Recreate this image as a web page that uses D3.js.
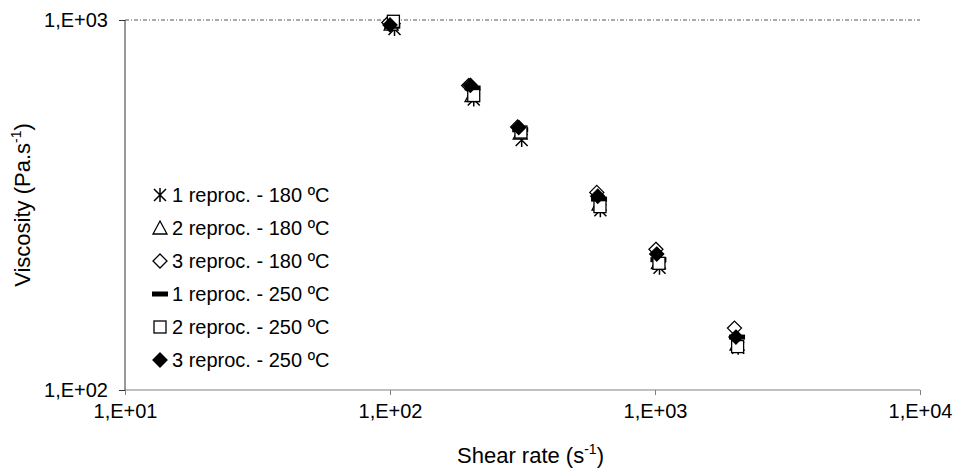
<!DOCTYPE html>
<html>
<head>
<meta charset="utf-8">
<script src="https://cdn.jsdelivr.net/npm/d3@7"></script>
<style>
	body { margin: 0; background: #fff; }
	svg text { font-family: "Liberation Sans", Arial, sans-serif; fill: #000; }
</style>
</head>
<body>
<svg id="chart" width="956" height="472"></svg>
<script>
// series values
const seriesNames = [
	"1 reproc. - 180 ºC",
	"2 reproc. - 180 ºC",
	"3 reproc. - 180 ºC",
	"1 reproc. - 250 ºC",
	"2 reproc. - 250 ºC",
	"3 reproc. - 250 ºC"
]
const markerTypes = ["star", "triangle", "diamond", "dash", "square", "diamondFilled"]

const rate1_180 = [104, 207, 314, 622, 1040, 2060]
const visc1_180 = [945, 610, 474, 306, 214, 130]
const rate2_180 = [101, 204, 310, 615, 1030, 2040]
const visc2_180 = [975, 625, 495, 318, 221, 133]
const rate3_180 = [99, 198, 303, 603, 1008, 1995]
const visc3_180 = [985, 665, 514, 342, 240, 147]
const rate1_250 = [102, 205, 310, 615, 1030, 2040]
const visc1_250 = [962, 655, 505, 328, 225, 139]
const rate2_250 = [103, 207, 312, 620, 1035, 2050]
const visc2_250 = [992, 625, 498, 313, 220, 131]
const rate3_250 = [100, 201, 306, 608, 1015, 2020]
const visc3_250 = [970, 666, 512, 334, 233, 139]

const xTicks = [10, 100, 1000, 10000]
const yTicks = [100, 1000]
const tickLabel = v => "1,E+0" + Math.round(Math.log10(v))

const rates = [rate1_180, rate2_180, rate3_180, rate1_250, rate2_250, rate3_250]
const viscs = [visc1_180, visc2_180, visc3_180, visc1_250, visc2_250, visc3_250]

const plotLeft = 125, plotRight = 920, plotTop = 20, plotBottom = 390

const x = d3.scaleLog().domain([10, 10000]).range([plotLeft, plotRight])
const y = d3.scaleLog().domain([100, 1000]).range([plotBottom, plotTop])

const svg = d3.select("#chart")

// top gridline (dash-dot, excel style)
svg.append("line")
	.attr("x1", plotLeft).attr("x2", plotRight)
	.attr("y1", y(1000)).attr("y2", y(1000))
	.attr("stroke", "#555").attr("stroke-width", 1)
	.attr("stroke-dasharray", "4,2,1,2")

// axes
const xAxis = svg.append("g")
	.attr("transform", `translate(0,${plotBottom})`)
	.call(d3.axisBottom(x).tickValues(xTicks).tickFormat(tickLabel).tickSize(5).tickPadding(9))
xAxis.select(".domain").attr("stroke", "#808080").attr("d", `M${plotLeft},0H${plotRight}`)
xAxis.selectAll(".tick line").attr("stroke", "#808080")
xAxis.selectAll(".tick text").attr("font-size", 20).attr("font-family", "Liberation Sans, Arial")

const yAxis = svg.append("g")
	.attr("transform", `translate(${plotLeft},0)`)
	.call(d3.axisLeft(y).tickValues(yTicks).tickFormat(tickLabel).tickSize(6).tickPadding(11))
yAxis.select(".domain").attr("stroke", "#333").attr("d", `M0,${plotBottom}V${plotTop}`)
yAxis.selectAll(".tick line").attr("stroke", "#333")
yAxis.selectAll(".tick text").attr("font-size", 20).attr("font-family", "Liberation Sans, Arial")

// axis titles
const xt = svg.append("text")
	.attr("x", (plotLeft + plotRight) / 2 + 8).attr("y", 463)
	.attr("text-anchor", "middle").attr("font-size", 22)
xt.append("tspan").text("Shear rate (s")
xt.append("tspan").attr("font-size", 14).attr("dy", -9).text("-1")
xt.append("tspan").attr("dy", 9).text(")")

const yt = svg.append("text")
	.attr("transform", `translate(30,${(plotTop + plotBottom) / 2}) rotate(-90)`)
	.attr("text-anchor", "middle").attr("font-size", 22)
yt.append("tspan").text("Viscosity (Pa.s")
yt.append("tspan").attr("font-size", 14).attr("dy", -9).text("-1")
yt.append("tspan").attr("dy", 9).text(")")

// marker drawing
function drawMarker(g, type) {
	const r = 6
	if (type === "star") {
		g.append("path")
			.attr("d", `M${-r},${-r}L${r},${r}M${-r},${r}L${r},${-r}M0,${-r - 1}L0,${r + 1}`)
			.attr("stroke", "#000").attr("stroke-width", 1.5).attr("fill", "none")
	} else if (type === "triangle") {
		g.append("path")
			.attr("d", `M0,${-r - 1}L${r + 1},${r}L${-r - 1},${r}Z`)
			.attr("stroke", "#000").attr("stroke-width", 1.3).attr("fill", "#fff")
	} else if (type === "diamond" || type === "diamondFilled") {
		g.append("path")
			.attr("d", `M0,${-r - 1}L${r + 1},0L0,${r + 1}L${-r - 1},0Z`)
			.attr("stroke", "#000").attr("stroke-width", 1.3)
			.attr("fill", type === "diamond" ? "#fff" : "#000")
	} else if (type === "square") {
		g.append("rect")
			.attr("x", -r).attr("y", -r).attr("width", 2 * r).attr("height", 2 * r)
			.attr("stroke", "#000").attr("stroke-width", 1.3).attr("fill", "#fff")
	} else if (type === "dash") {
		g.append("rect")
			.attr("x", -8).attr("y", -2.5).attr("width", 16).attr("height", 5)
			.attr("fill", "#000")
	}
}

// points
rates.forEach((rs, i) => {
	const grp = svg.append("g")
	rs.forEach((rv, j) => {
		const g = grp.append("g").attr("transform", `translate(${x(rv)},${y(viscs[i][j])})`)
		drawMarker(g, markerTypes[i])
	})
})

// legend
const legend = svg.append("g")
seriesNames.forEach((name, i) => {
	const ly = 195 + i * 33
	const g = legend.append("g").attr("transform", `translate(160,${ly})`)
	drawMarker(g, markerTypes[i])
	legend.append("text")
		.attr("x", 172).attr("y", ly).attr("dy", "0.36em")
		.attr("font-size", 20)
		.text(name)
})
</script>
</body>
</html>
